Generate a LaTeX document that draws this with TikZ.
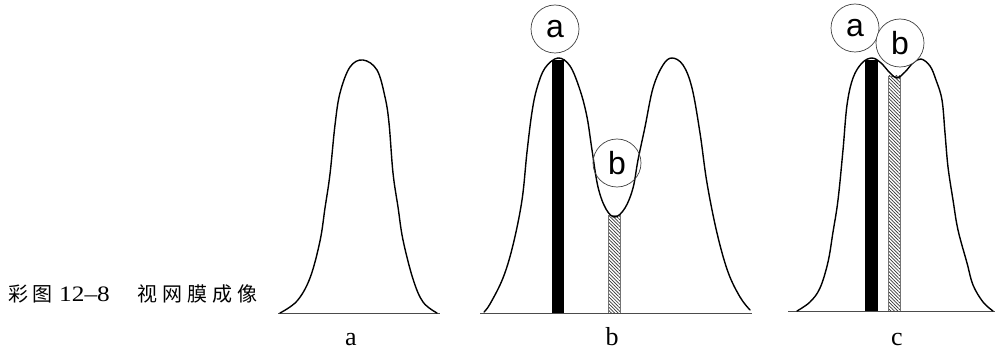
\documentclass[tikz,border=0pt]{standalone}
\usepackage{fontspec}
\setmainfont{Liberation Serif}
\newfontfamily\cjkfont{Noto Sans CJK SC}
\newfontfamily\capdigits[FakeStretch=1.15]{Liberation Serif}
\newfontfamily\lblsans{Liberation Sans}
\usetikzlibrary{patterns.meta}
\begin{document}
\begin{tikzpicture}[x=1pt,y=-1pt,
  curve/.style={line width=1.4pt, line join=round, line cap=round},
  baseln/.style={line width=0.9pt, draw=black!70},
  solidbar/.style={fill=black, draw=none},
  hatchbar/.style={draw=black!55, line width=0.5pt,
     pattern={Lines[angle=-45,distance=2.4pt,line width=0.7pt]}, pattern color=black!80},
  ring/.style={circle, draw=black!75, line width=0.7pt, minimum size=48pt, inner sep=0pt,
     font=\lblsans\fontsize{32}{32}\selectfont},
  panellbl/.style={anchor=base, font=\fontsize{26}{26}\selectfont},
  captxt/.style={anchor=base west, inner sep=0pt, font=\fontsize{20}{20}\selectfont}
]
\useasboundingbox (0,0) rectangle (999,350);

% ---------- caption ----------
\node[captxt] (cap1) at (8,301) {\cjkfont 彩\hspace{4pt}图};
\node[captxt, font=\capdigits\fontsize{22}{22}\selectfont] (cap2) at (59,301) {12–8};
\node[captxt] (cap3) at (137,301) {\cjkfont 视\hspace{5pt}网\hspace{5pt}膜\hspace{5pt}成\hspace{5pt}像};

% ---------- panel a ----------
\coordinate (aL) at (278,313);
\coordinate (aR) at (440,313);
\draw[baseln] (aL) -- (aR);
\draw[curve] plot[smooth, tension=0.6] coordinates {
 (280,313) (297,301) (310,278) (320,241) (325,208) (330,174) (335,125) (340,93)
 (350,67) (363,60) (377,70) (385,97) (389,123) (393,173) (398,207) (403,240)
 (413,279) (423,302) (437,313)};
\node[panellbl] (la) at (351,345) {a};

% ---------- panel b ----------
\coordinate (bL) at (480,313);
\coordinate (bR) at (752,313);
\fill[solidbar] (552,60) rectangle (564,313);
\draw[hatchbar] (608,215) rectangle (620,313);
\draw[baseln] (bL) -- (bR);
\draw[curve] plot[smooth, tension=0.6] coordinates {
 (484,312) (490,304) (503,278) (513,245) (522,200) (527,152) (532,112) (537,88)
 (545,68) (558,58) (570,66) (580,90) (587,117) (592,150) (598,187) (606,209)
 (615,217) (625,208) (633,188) (638,160) (645,127) (653,88) (663,65) (672,58)
 (683,65) (692,88) (700,133) (707,183) (717,233) (728,272) (740,297) (750,310)};
\node[ring] (ba) at (555,29) {a};
\node[ring] (bb) at (617,163) {b};
\node[panellbl] (lb) at (612,345) {b};

% ---------- panel c ----------
\coordinate (cL) at (788,311);
\coordinate (cR) at (995,311);
\fill[solidbar] (865,60) rectangle (878,311);
\draw[hatchbar] (888,76) rectangle (900,311);
\draw[baseln] (cL) -- (cR);
\draw[curve] plot[smooth, tension=0.6] coordinates {
 (797,311) (810,302) (820,288) (828,262) (833,232) (838,200) (843,150) (847,105)
 (853,78) (862,63) (872,58) (881,63) (890,73) (897,78) (905,72) (913,63)
 (921,59) (930,66) (936,80) (942,100) (945,133) (948,167) (953,200) (958,230)
 (967,263) (973,285) (983,302) (993,311)};
\node[ring] (ca) at (855,28) {a};
\node[ring, fill=white] (cb) at (900,43) {b};
\node[panellbl] (lc) at (897,345) {c};
\end{tikzpicture}
\end{document}
